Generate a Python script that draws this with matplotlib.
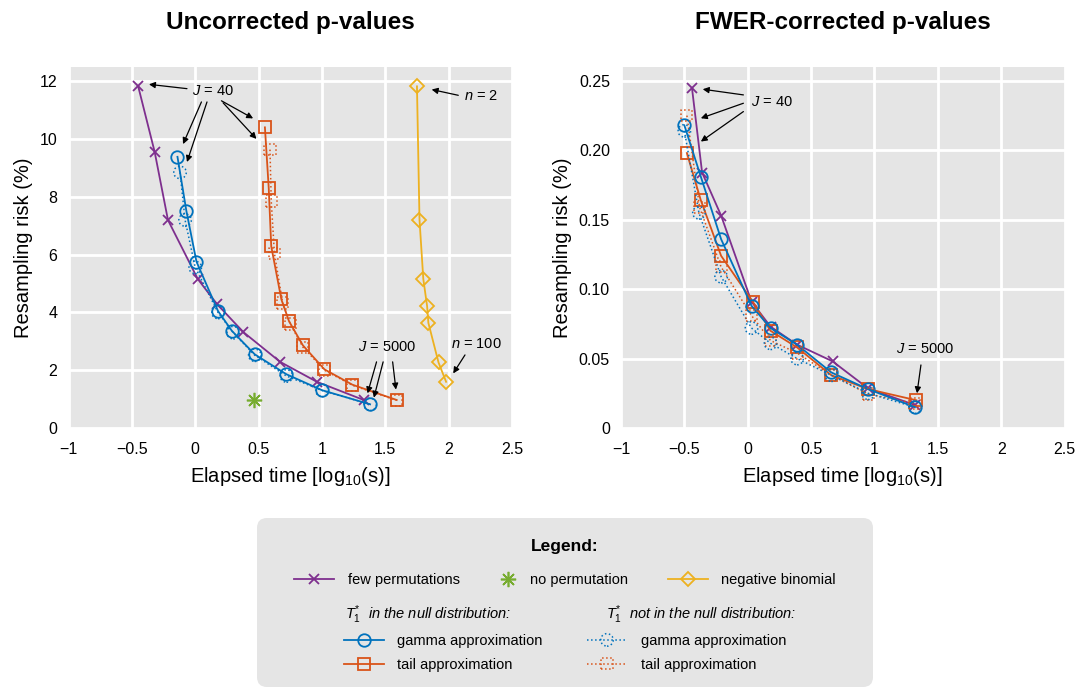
import matplotlib.pyplot as plt
from matplotlib.patches import FancyBboxPatch
from matplotlib.legend_handler import HandlerTuple

plt.rcParams['font.family'] = ['Liberation Sans', 'DejaVu Sans']
plt.rcParams['mathtext.fontset'] = 'custom'
plt.rcParams['mathtext.rm'] = 'Liberation Sans'
plt.rcParams['mathtext.it'] = 'Liberation Sans:italic'
plt.rcParams['mathtext.bf'] = 'Liberation Sans:bold'

#<<<---------------- data: uncorrected p-values (%) ---------------->>>
few_x_unc = [-0.45, -0.32, -0.215, 0.02, 0.17, 0.38, 0.67, 0.96, 1.33]
few_y_unc = [11.83, 9.56, 7.2, 5.16, 4.3, 3.32, 2.29, 1.6, 0.97]

gam_x_unc = [-0.14, -0.07, 0.01, 0.18, 0.29, 0.47, 0.72, 1.0, 1.38]
gam_y_unc = [9.39, 7.52, 5.76, 4.05, 3.36, 2.55, 1.86, 1.31, 0.82]
gam2_x_unc = [-0.12, -0.08, 0.0, 0.18, 0.3, 0.47, 0.72, 1.0, 1.38]
gam2_y_unc = [8.85, 7.2, 5.56, 4.0, 3.3, 2.52, 1.8, 1.3, 0.82]

tail_x_unc = [0.55, 0.58, 0.6, 0.68, 0.74, 0.85, 1.02, 1.24, 1.59]
tail_y_unc = [10.41, 8.32, 6.29, 4.45, 3.7, 2.86, 2.03, 1.5, 0.97]
tail2_x_unc = [0.59, 0.6, 0.625, 0.69, 0.75, 0.85, 1.02, 1.24, 1.59]
tail2_y_unc = [9.64, 7.86, 6.05, 4.33, 3.6, 2.8, 2.0, 1.48, 0.96]

negbin_x = [1.75, 1.77, 1.8, 1.83, 1.84, 1.92, 1.98]
negbin_y = [11.83, 7.21, 5.16, 4.22, 3.64, 2.27, 1.6]

noperm_x = [0.46]
noperm_y = [0.97]

#<<<---------------- data: FWER-corrected p-values ---------------->>>
few_x_fwer = [-0.44, -0.36, -0.21, 0.03, 0.18, 0.39, 0.67, 0.95, 1.32]
few_y_fwer = [0.245, 0.184, 0.153, 0.091, 0.073, 0.060, 0.048, 0.0285, 0.0165]

gam_x_fwer = [-0.50, -0.37, -0.21, 0.03, 0.18, 0.39, 0.66, 0.95, 1.32]
gam_y_fwer = [0.218, 0.181, 0.136, 0.088, 0.072, 0.060, 0.040, 0.028, 0.015]
gam2_x_fwer = [-0.50, -0.385, -0.21, 0.03, 0.18, 0.39, 0.66, 0.95, 1.32]
gam2_y_fwer = [0.214, 0.155, 0.109, 0.072, 0.061, 0.050, 0.038, 0.025, 0.015]

tail_x_fwer = [-0.48, -0.37, -0.21, 0.04, 0.18, 0.39, 0.66, 0.95, 1.33]
tail_y_fwer = [0.198, 0.164, 0.124, 0.091, 0.070, 0.058, 0.038, 0.028, 0.020]
tail2_x_fwer = [-0.48, -0.38, -0.21, 0.03, 0.18, 0.39, 0.66, 0.95, 1.32]
tail2_y_fwer = [0.225, 0.159, 0.116, 0.081, 0.063, 0.054, 0.038, 0.0245, 0.0177]

x_ticks = [-1, -0.5, 0, 0.5, 1, 1.5, 2, 2.5]
x_ticklabels = ['\u22121', '\u22120.5', '0', '0.5', '1', '1.5', '2', '2.5']
y_ticks_unc = [0, 2, 4, 6, 8, 10, 12]
y_ticks_fwer = [0, 0.05, 0.10, 0.15, 0.20, 0.25]
y_ticklabels_fwer = ['0', '0.05', '0.10', '0.15', '0.20', '0.25']

PURPLE = '#7E2F8E'
BLUE = '#0072BD'
ORANGE = '#D95319'
YELLOW = '#EDB120'
GREEN = '#77AC30'
BG = '#e5e5e5'

W, H = 1075, 688
fig = plt.figure(figsize=(W / 100, H / 100), dpi=100)
ax1 = fig.add_axes([68.5 / W, 1 - 428 / H, 443.5 / W, 361 / H])
ax2 = fig.add_axes([621 / W, 1 - 428 / H, 443.5 / W, 361 / H])


def solid(ax, x, y, color, marker, ms):
    line, = ax.plot(x, y, color=color, lw=1.3, marker=marker, ms=ms,
                    mfc='none', mew=1.3)
    return line


def dotted(ax, x, y, color, marker, ms):
    line, = ax.plot(x, y, color=color, lw=1.1, ls=':')
    pts = ax.scatter(x, y, s=ms ** 2, marker=marker, facecolors='none',
                     edgecolors=color, linewidths=1.1, linestyles=':', zorder=3)
    return (line, pts)


# left panel
h_few = solid(ax1, few_x_unc, few_y_unc, PURPLE, 'x', 7)
h_tail2 = dotted(ax1, tail2_x_unc, tail2_y_unc, ORANGE, 's', 8)
h_tail = solid(ax1, tail_x_unc, tail_y_unc, ORANGE, 's', 8)
h_gam2 = dotted(ax1, gam2_x_unc, gam2_y_unc, BLUE, 'o', 9)
h_gam = solid(ax1, gam_x_unc, gam_y_unc, BLUE, 'o', 9)
h_neg = solid(ax1, negbin_x, negbin_y, YELLOW, 'D', 7)
h_no, = ax1.plot(noperm_x, noperm_y, ls='none', marker=(8, 2, 0), ms=11,
                 mew=1.2, color=GREEN)

# right panel
solid(ax2, few_x_fwer, few_y_fwer, PURPLE, 'x', 7)
dotted(ax2, tail2_x_fwer, tail2_y_fwer, ORANGE, 's', 8)
solid(ax2, tail_x_fwer, tail_y_fwer, ORANGE, 's', 8)
dotted(ax2, gam2_x_fwer, gam2_y_fwer, BLUE, 'o', 9)
solid(ax2, gam_x_fwer, gam_y_fwer, BLUE, 'o', 9)

for ax in (ax1, ax2):
    ax.set_facecolor(BG)
    ax.grid(color='white', lw=2)
    ax.set_axisbelow(True)
    for s in ax.spines.values():
        s.set_visible(False)
    ax.tick_params(length=0, labelsize=11.5)
    ax.tick_params(axis='x', pad=10)
    ax.tick_params(axis='y', pad=8)
    ax.set_xlim(-1, 2.5)
    ax.set_xticks(x_ticks, x_ticklabels)
    ax.set_xlabel('Elapsed time [log$_{10}$(s)]', fontsize=14.5, labelpad=6)
    ax.set_ylabel('Resampling risk (%)', fontsize=14.5, labelpad=5)

ax1.set_ylim(0, 12.5)
ax1.set_yticks(y_ticks_unc)
ax2.set_ylim(0, 0.26)
ax2.set_yticks(y_ticks_fwer, y_ticklabels_fwer)

ax1.set_title('Uncorrected p-values', fontsize=17.5, fontweight='bold', pad=27)
ax2.set_title('FWER-corrected p-values', fontsize=17.5, fontweight='bold', pad=27)

# annotations
arr = dict(arrowstyle='-|>', color='black', lw=0.9, mutation_scale=9,
           shrinkA=0, shrinkB=0)
ann = dict(fontsize=10.5, ha='center', va='center')

ax1.text(0.136, 11.67, '$J$ = 40', **ann)
for tail, tip in [((-0.065, 11.75), (-0.365, 11.9)),
                  ((0.049, 11.29), (-0.096, 9.83)),
                  ((0.093, 11.29), (-0.065, 9.21)),
                  ((0.207, 11.33), (0.457, 10.72)),
                  ((0.22, 11.26), (0.483, 10.01))]:
    ax1.annotate('', xy=tip, xytext=tail, arrowprops=arr)

ax1.text(2.253, 11.49, '$n$ = 2', **ann)
ax1.annotate('', xy=(1.866, 11.72), xytext=(2.076, 11.52), arrowprops=arr)

ax1.text(1.51, 2.79, '$J$ = 5000', **ann)
for tail, tip in [((1.431, 2.29), (1.36, 1.2)),
                  ((1.483, 2.29), (1.41, 1.05)),
                  ((1.558, 2.29), (1.584, 1.33))]:
    ax1.annotate('', xy=tip, xytext=tail, arrowprops=arr)

ax1.text(2.22, 2.91, '$n$ = 100', **ann)
ax1.annotate('', xy=(2.036, 1.89), xytext=(2.129, 2.53), arrowprops=arr)

ax2.text(0.19, 0.235, '$J$ = 40', **ann)
for tail, tip in [((-0.034, 0.2399), (-0.355, 0.244)),
                  ((-0.034, 0.2339), (-0.37, 0.2231)),
                  ((-0.034, 0.2279), (-0.37, 0.2063))]:
    ax2.annotate('', xy=tip, xytext=tail, arrowprops=arr)

ax2.text(1.401, 0.0567, '$J$ = 5000', **ann)
ax2.annotate('', xy=(1.336, 0.025), xytext=(1.367, 0.0454), arrowprops=arr)

#<<<---------------- legend panel ---------------->>>
fig.add_artist(FancyBboxPatch((2.57, 0.01), 6.16, 1.69,
                              boxstyle='round,pad=0,rounding_size=0.1',
                              transform=fig.dpi_scale_trans, fc=BG, ec='none',
                              zorder=0))
fig.text(565 / W, 1 - 547 / H, 'Legend:', ha='center', va='center',
         fontsize=12.5, fontweight='bold')
fig.text(345 / W, 1 - 615 / H, r'$T_{\mathit{1}}^{*}$  in the null distribution:',
         style='italic', fontsize=10.5, va='center')
fig.text(606 / W, 1 - 615 / H, r'$T_{\mathit{1}}^{*}$  not in the null distribution:',
         style='italic', fontsize=10.5, va='center')

entries = [
    (h_few, 'few permutations', 294, 580, 0.96),
    (h_no, 'no permutation', 488, 580, 0.14),
    (h_neg, 'negative binomial', 668, 580, 0.89),
    (h_gam, 'gamma approximation', 344, 641, 0.89),
    (h_tail, 'tail approximation', 344, 665, 0.89),
    (h_gam2, 'gamma approximation', 587, 641, 0.96),
    (h_tail2, 'tail approximation', 587, 665, 0.96),
]
for handle, label, x0, y0, pad in entries:
    fig.legend([handle], [label], loc='center left',
               bbox_to_anchor=(x0 / W, 1 - y0 / H), frameon=False,
               fontsize=10.5, handlelength=2.74, handletextpad=pad,
               borderpad=0, borderaxespad=0, scatteryoffsets=[0.5],
               handler_map={tuple: HandlerTuple(ndivide=1)})

fig.savefig('out.png', dpi=100)
